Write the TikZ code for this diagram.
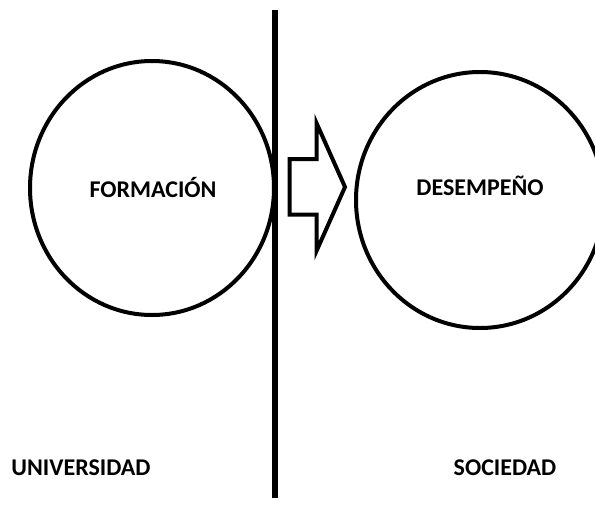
\documentclass[tikz,border=0pt]{standalone}
\usepackage{fontspec}
\setmainfont{Carlito}
\usepackage{tikz}
\usetikzlibrary{shapes.geometric}

\tikzset{
  ring/.style={draw, line width=4pt, ellipse, inner sep=0pt},
  lbl/.style={font=\fontsize{24}{26}\selectfont\bfseries},
  blockarrow/.style={draw, line width=4pt, miter limit=10}
}

\begin{document}
\begin{tikzpicture}[x=1pt,y=-1pt]
  \useasboundingbox (0,0) rectangle (595,509);
  % dividing line
  \coordinate (top) at (275,10);
  \coordinate (bottom) at (275,498);
  \draw[line width=5.5pt] (top) -- (bottom);

  % the two circles
  \draw (152,188) node[ring, minimum width=244pt, minimum height=254pt] (univ) {};
  \draw (480,200) node[ring, minimum width=248pt, minimum height=256pt] (soc) {};
  \draw (153,187) node[lbl] (formacion) {FORMACIÓN};
  \draw (480,186) node[lbl] (desempeno) {DESEMPEÑO};

  % block arrow
  \draw[blockarrow] (289.5,159) -- (316.5,159) -- (316.5,123) -- (345,187)
     -- (316.5,251) -- (316.5,214.5) -- (289.5,214.5) -- cycle;

  \draw (81,468) node[lbl] (universidad) {UNIVERSIDAD};
  \draw (505,468) node[lbl] (sociedad) {SOCIEDAD};
\end{tikzpicture}
\end{document}
